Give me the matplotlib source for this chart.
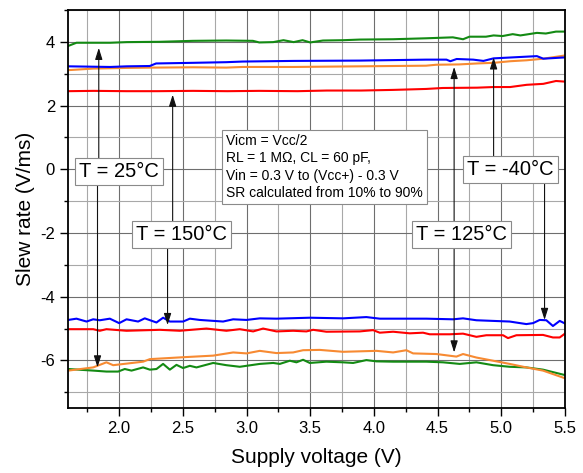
import matplotlib
matplotlib.use("Agg")
import matplotlib.pyplot as plt
from matplotlib.ticker import MultipleLocator, FormatStrFormatter

plt.rcParams["font.family"] = ["Liberation Sans", "DejaVu Sans"]
plt.rcParams["axes.unicode_minus"] = False

# ---- data ------------------------------------------------------------------
# upper group (rising edge)
green_top_x = [1.60, 1.665, 1.93, 2.06, 2.32, 2.58, 2.84, 3.05, 3.10, 3.21, 3.29, 3.37, 3.44, 3.50,
               3.60, 3.76, 3.89, 4.15, 4.41, 4.62, 4.70, 4.75, 4.88, 4.94, 5.01, 5.09, 5.15, 5.20,
               5.28, 5.35, 5.43, 5.50]
green_top_y = [3.87, 3.97, 3.97, 3.99, 4.00, 4.03, 4.04, 4.03, 3.98, 3.99, 4.05, 3.99, 4.05, 3.98,
               4.04, 4.05, 4.07, 4.08, 4.11, 4.14, 4.08, 4.16, 4.16, 4.20, 4.18, 4.24, 4.20, 4.23,
               4.28, 4.26, 4.32, 4.32]

blue_top_x = [1.60, 1.93, 2.06, 2.24, 2.29, 2.58, 2.84, 2.97, 3.37, 3.89, 4.41, 4.57, 4.60, 4.65,
              4.78, 4.86, 4.94, 5.28, 5.33, 5.50]
blue_top_y = [3.23, 3.21, 3.23, 3.24, 3.32, 3.34, 3.36, 3.38, 3.40, 3.41, 3.44, 3.44, 3.39, 3.46,
              3.44, 3.40, 3.48, 3.55, 3.47, 3.51]

orange_top_x = [1.60, 1.80, 2.06, 2.27, 2.58, 2.84, 2.97, 3.37, 3.89, 4.41, 4.49, 4.67, 4.81, 4.94,
                5.07, 5.20, 5.33, 5.50]
orange_top_y = [3.11, 3.16, 3.18, 3.19, 3.20, 3.19, 3.21, 3.21, 3.23, 3.25, 3.28, 3.29, 3.32, 3.34,
                3.39, 3.42, 3.47, 3.57]

red_top_x = [1.60, 1.80, 2.06, 2.30, 2.58, 2.85, 3.10, 3.40, 3.63, 3.90, 4.15, 4.41, 4.54, 4.81,
             4.94, 5.07, 5.20, 5.33, 5.43, 5.50]
red_top_y = [2.45, 2.46, 2.45, 2.45, 2.46, 2.45, 2.46, 2.45, 2.47, 2.47, 2.49, 2.52, 2.55, 2.56,
             2.58, 2.58, 2.65, 2.68, 2.77, 2.75]

# lower group (falling edge)
blue_bot_x = [1.60, 1.665, 1.744, 1.796, 1.848, 1.927, 2.0, 2.058, 2.149, 2.201, 2.293, 2.345,
              2.398, 2.502, 2.555, 2.633, 2.816, 2.895, 3.0, 3.104, 3.235, 3.497, 3.758, 3.941,
              4.046, 4.412, 4.622, 4.70, 4.805, 5.066, 5.197, 5.25, 5.302, 5.354, 5.406, 5.459, 5.50]
blue_bot_y = [-4.73, -4.69, -4.78, -4.71, -4.74, -4.69, -4.83, -4.71, -4.78, -4.68, -4.81, -4.66,
              -4.78, -4.78, -4.69, -4.73, -4.78, -4.71, -4.73, -4.68, -4.69, -4.66, -4.68, -4.64,
              -4.69, -4.69, -4.71, -4.68, -4.74, -4.78, -4.86, -4.83, -4.73, -4.74, -4.92, -4.76, -4.84]

red_bot_x = [1.60, 1.796, 1.848, 1.90, 2.058, 2.319, 2.476, 2.685, 2.842, 2.947, 3.052, 3.13,
             3.235, 3.366, 3.47, 3.523, 3.627, 3.889, 3.994, 4.046, 4.151, 4.282, 4.386, 4.438,
             4.596, 4.70, 4.805, 4.883, 5.014, 5.053, 5.119, 5.328, 5.406, 5.459, 5.50]
red_bot_y = [-5.02, -5.02, -5.07, -5.02, -5.07, -5.04, -5.07, -5.00, -5.07, -5.02, -5.09, -5.00,
             -5.09, -5.07, -5.09, -5.04, -5.10, -5.09, -5.05, -5.13, -5.10, -5.15, -5.13, -5.18,
             -5.18, -5.16, -5.26, -5.21, -5.21, -5.30, -5.21, -5.20, -5.28, -5.28, -5.16]

orange_bot_x = [1.60, 1.796, 1.90, 1.953, 2.188, 2.241, 2.502, 2.738, 2.895, 3.0, 3.104, 3.235,
                3.366, 3.444, 3.575, 3.758, 4.02, 4.151, 4.255, 4.308, 4.491, 4.648, 4.70, 4.805,
                4.936, 5.066, 5.197, 5.328, 5.50]
orange_bot_y = [-6.32, -6.22, -6.06, -6.15, -6.04, -5.96, -5.90, -5.85, -5.75, -5.78, -5.70, -5.77,
                -5.75, -5.68, -5.67, -5.73, -5.70, -5.75, -5.68, -5.78, -5.80, -5.88, -5.80, -5.91,
                -6.01, -6.11, -6.22, -6.32, -6.56]

green_bot_x = [1.60, 1.796, 1.90, 1.992, 2.044, 2.097, 2.188, 2.241, 2.293, 2.345, 2.398, 2.45,
               2.502, 2.555, 2.607, 2.738, 2.842, 2.947, 3.104, 3.209, 3.261, 3.34, 3.392, 3.444,
               3.497, 3.627, 3.758, 3.837, 3.941, 4.02, 4.151, 4.412, 4.543, 4.674, 4.805, 4.936,
               5.066, 5.197, 5.328, 5.50]
green_bot_y = [-6.27, -6.32, -6.35, -6.35, -6.27, -6.32, -6.22, -6.29, -6.27, -6.11, -6.29, -6.14,
               -6.24, -6.17, -6.22, -6.08, -6.15, -6.20, -6.11, -6.08, -6.11, -6.01, -6.06, -5.98,
               -6.08, -6.04, -6.06, -6.08, -5.99, -6.03, -6.04, -6.04, -6.06, -6.11, -6.06, -6.15,
               -6.20, -6.22, -6.29, -6.46]

# temperature labels: text, position, (arrow x, tip y) up / down
temp_labels = ["T = 25°C", "T = 150°C", "T = 125°C", "T = -40°C"]
temp_pos = [(2.0, -0.06), (2.49, -2.04), (4.69, -2.05), (5.07, 0.0)]
arrow_up = [(1.84, 3.81), (2.42, 2.34), (4.63, 3.21), (4.94, 3.51)]
arrow_dn = [(1.83, -6.22), (2.38, -4.89), (4.63, -5.75), (5.34, -4.73)]

note = ("Vicm = Vcc/2\nRL = 1 MΩ, CL = 60 pF,\n"
        "Vin = 0.3 V to (Vcc+) - 0.3 V\nSR calculated from 10% to 90%")

GREEN, BLUE, ORANGE, RED = "#138a13", "#0000ff", "#f78a32", "#ff0000"

fig = plt.figure(figsize=(5.83, 4.73), dpi=100)
ax = fig.add_axes([0.117, 0.137, 0.852, 0.842])

lw = 1.5
ax.plot(green_top_x, green_top_y, color=GREEN, lw=lw)
ax.plot(orange_top_x, orange_top_y, color=ORANGE, lw=lw)
ax.plot(blue_top_x, blue_top_y, color=BLUE, lw=lw)
ax.plot(red_top_x, red_top_y, color=RED, lw=lw)
ax.plot(red_bot_x, red_bot_y, color=RED, lw=lw)
ax.plot(blue_bot_x, blue_bot_y, color=BLUE, lw=lw)
ax.plot(green_bot_x, green_bot_y, color=GREEN, lw=lw)
ax.plot(orange_bot_x, orange_bot_y, color=ORANGE, lw=lw)

ax.set_xlim(1.6, 5.5)
ax.set_ylim(-7.5, 5.0)
ax.xaxis.set_major_locator(MultipleLocator(0.5))
ax.xaxis.set_minor_locator(MultipleLocator(0.25))
ax.yaxis.set_major_locator(MultipleLocator(2))
ax.yaxis.set_minor_locator(MultipleLocator(1))
ax.xaxis.set_major_formatter(FormatStrFormatter("%.1f"))
ax.grid(True, which="major", color="#6e6e6e", lw=0.8)
ax.grid(True, which="minor", color="#a8a8a8", lw=0.8)
ax.set_axisbelow(True)
ax.tick_params(which="major", direction="out", length=6, width=1.0, labelsize=12)
ax.tick_params(which="minor", direction="out", length=3, width=1.0)
for s in ax.spines.values():
    s.set_linewidth(1.3)

ax.set_xlabel("Supply voltage (V)", fontsize=15, labelpad=8)
ax.set_ylabel("Slew rate (V/ms)", fontsize=15, labelpad=4)

for lab, (tx, ty), (ux, uy), (dx, dy) in zip(temp_labels, temp_pos, arrow_up, arrow_dn):
    for ax_x, tip in ((ux, uy), (dx, dy)):
        ax.annotate("", xy=(ax_x, tip), xytext=(ax_x, ty),
                    arrowprops=dict(arrowstyle="-|>,head_length=0.7,head_width=0.22",
                                    color="#111111", lw=0.8, shrinkA=0, shrinkB=0),
                    zorder=4)
    ax.text(tx, ty, lab, fontsize=14.5, ha="center", va="center", zorder=6,
            bbox=dict(boxstyle="square,pad=0.2", fc="white", ec="#8a8a8a", lw=0.8))

ax.text(0.318, 0.688, note, transform=ax.transAxes, fontsize=10, ha="left", va="top",
        linespacing=1.3, zorder=6,
        bbox=dict(boxstyle="square,pad=0.3", fc="white", ec="#8a8a8a", lw=0.8))

fig.savefig("out.png", dpi=100, facecolor="white")
